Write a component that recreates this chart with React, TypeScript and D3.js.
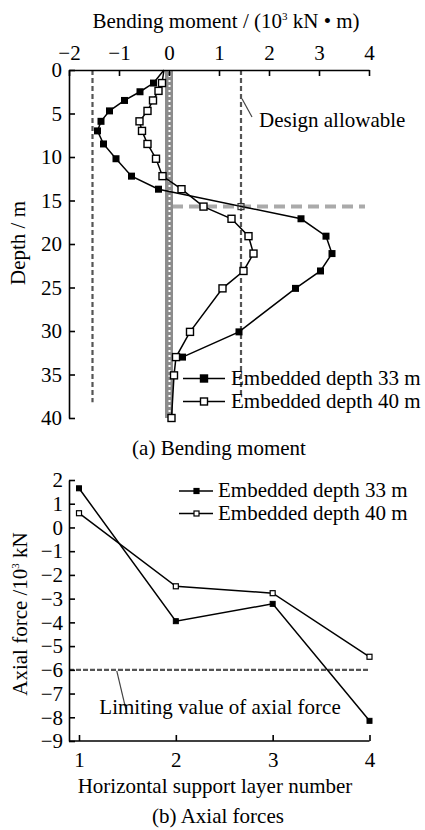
import * as d3 from "d3"
import React, { useEffect, useRef } from "react"

// top chart: bending moment vs depth
const momentTicks = [-2, -1, 0, 1, 2, 3, 4]
const depthTicks = [0, 5, 10, 15, 20, 25, 30, 35, 40]

const depth33 = [0, 1.5, 2.5, 3.5, 4.7, 5.9, 7.0, 8.5, 10.2, 12.2, 13.7, 17.1, 19.1, 21.1, 23.1, 25.1, 30.1, 33.0]
const moment33 = [-0.1, -0.31, -0.58, -0.89, -1.19, -1.36, -1.43, -1.31, -1.06, -0.75, -0.21, 2.64, 3.14, 3.26, 3.03, 2.53, 1.4, 0.27]

const depth40 = [0, 1.5, 2.4, 3.5, 4.7, 5.9, 7.0, 8.5, 10.2, 12.2, 13.7, 15.7, 17.1, 19.1, 21.1, 23.1, 25.1, 30.1, 33.0, 35.1, 40.0]
const moment40 = [-0.1, -0.14, -0.21, -0.32, -0.43, -0.59, -0.54, -0.43, -0.26, -0.13, 0.25, 0.69, 1.25, 1.59, 1.69, 1.49, 1.07, 0.42, 0.14, 0.1, 0.05]

const allowMoment = [-1.53, 1.44]
const allowDepthEnd = [38.2, 37.5]
const excavationDepth = 15.7
const wallDepth = 40

// bottom chart: axial force per support layer
const layers = [1, 2, 3, 4]
const forceTicks = [2, 1, 0, -1, -2, -3, -4, -5, -6, -7, -8, -9]
const axial33 = [1.65, -3.95, -3.22, -8.15]
const axial40 = [0.6, -2.48, -2.77, -5.45]
const forceLimit = -6

const seriesNames = ["Embedded depth 33 m", "Embedded depth 40 m"]
const FONT = "'Liberation Serif', 'Times New Roman', serif"

export default function App() {
  const ref = useRef<SVGSVGElement>(null)

  useEffect(() => {
    const svg = d3.select(ref.current)
    svg.selectAll("*").remove()

    //---------- (a) bending moment ----------
    const x = d3.scaleLinear().domain([-2, 4]).range([69, 369])
    const y = d3.scaleLinear().domain([0, 40]).range([70, 418])

    const top = svg.append("g")

    // design allowable verticals
    allowMoment.forEach((m, i) => {
      top.append("line")
        .attr("x1", x(m)).attr("x2", x(m))
        .attr("y1", y(0)).attr("y2", y(allowDepthEnd[i]))
        .attr("stroke", "#555").attr("stroke-width", 2.2)
        .attr("stroke-dasharray", "5,3")
    })
    // excavation level
    top.append("line")
      .attr("x1", x(0.06)).attr("x2", x(3.92))
      .attr("y1", y(excavationDepth)).attr("y2", y(excavationDepth))
      .attr("stroke", "#aaa").attr("stroke-width", 4)
      .attr("stroke-dasharray", "11,6")

    // the wall
    top.append("rect")
      .attr("x", x(0) - 4).attr("width", 8)
      .attr("y", y(0)).attr("height", y(wallDepth) - y(0))
      .attr("fill", "#8c8c8c")
    top.append("line")
      .attr("x1", x(0) + 0.5).attr("x2", x(0) + 0.5)
      .attr("y1", y(0)).attr("y2", y(wallDepth))
      .attr("stroke", "#fff").attr("stroke-width", 2)
      .attr("stroke-dasharray", "2,3")

    const pts33 = depth33.map((d, i) => [moment33[i], d])
    const pts40 = depth40.map((d, i) => [moment40[i], d])
    const lineTop = d3.line<number[]>().x(d => x(d[0])).y(d => y(d[1]))

    ;[pts40, pts33].forEach(p => {
      top.append("path").attr("d", lineTop(p))
        .attr("fill", "none").attr("stroke", "#000").attr("stroke-width", 1.5)
    })
    const sq = 7
    top.selectAll(".m40").data(pts40.slice(1)).enter().append("rect")
      .attr("x", d => x(d[0]) - sq / 2).attr("y", d => y(d[1]) - sq / 2)
      .attr("width", sq).attr("height", sq)
      .attr("fill", "#fff").attr("stroke", "#000").attr("stroke-width", 1.4)
    top.selectAll(".m33").data(pts33.slice(1)).enter().append("rect")
      .attr("x", d => x(d[0]) - sq / 2).attr("y", d => y(d[1]) - sq / 2)
      .attr("width", sq).attr("height", sq)
      .attr("fill", "#000")
    // crossing of allowable and excavation level
    top.append("rect")
      .attr("x", x(allowMoment[1]) - 3).attr("y", y(excavationDepth) - 3)
      .attr("width", 6).attr("height", 6)
      .attr("fill", "none").attr("stroke", "#333").attr("stroke-width", 1.2)

    // axes
    const xAxis = top.append("g").attr("transform", "translate(0," + y(0) + ")")
      .call(d3.axisTop(x).tickValues(momentTicks).tickFormat(d3.format("d")).tickSizeInner(-6).tickSizeOuter(0).tickPadding(10))
    const yAxis = top.append("g").attr("transform", "translate(" + x(-2) + ",0)")
      .call(d3.axisLeft(y).tickValues(depthTicks).tickFormat(d3.format("d")).tickSizeInner(-6).tickSizeOuter(0).tickPadding(7))
    ;[xAxis, yAxis].forEach(g => {
      g.attr("font-family", FONT).attr("font-size", 21)
      g.selectAll("path, line").attr("stroke", "#000").attr("stroke-width", 1.6)
      g.selectAll("text").attr("fill", "#000")
    })

    const title = top.append("text").attr("x", 226).attr("y", 28)
      .attr("text-anchor", "middle").attr("font-family", FONT).attr("font-size", 21)
    title.append("tspan").text("Bending moment / (10")
    title.append("tspan").attr("font-size", 11).attr("dy", -8).text("3")
    title.append("tspan").attr("dy", 8).text(" kN • m)")

    top.append("text").attr("transform", "translate(25,243) rotate(-90)")
      .attr("text-anchor", "middle").attr("font-family", FONT).attr("font-size", 21)
      .text("Depth / m")

    // design allowable annotation
    top.append("line")
      .attr("x1", x(1.46)).attr("y1", y(3.3)).attr("x2", x(1.66)).attr("y2", y(5.4))
      .attr("stroke", "#444").attr("stroke-width", 1.2)
    top.append("text").attr("x", x(1.8)).attr("y", y(6.55))
      .attr("font-family", FONT).attr("font-size", 21).text("Design allowable")

    // legend
    const legTop = top.append("g").attr("font-family", FONT).attr("font-size", 21)
    seriesNames.forEach((name, i) => {
      const ly = 378.5 + i * 23
      legTop.append("line").attr("x1", 183).attr("x2", 225).attr("y1", ly).attr("y2", ly)
        .attr("stroke", "#000").attr("stroke-width", 1.5)
      legTop.append("rect").attr("x", 204 - sq / 2).attr("y", ly - sq / 2)
        .attr("width", sq).attr("height", sq)
        .attr("fill", i === 0 ? "#000" : "#fff").attr("stroke", "#000").attr("stroke-width", 1.4)
      legTop.append("text").attr("x", 231).attr("y", ly + 6).text(name)
    })

    svg.append("text").attr("x", 219).attr("y", 455).attr("text-anchor", "middle")
      .attr("font-family", FONT).attr("font-size", 21).text("(a) Bending moment")

    //---------- (b) axial forces ----------
    const xb = d3.scaleLinear().domain([1, 4]).range([79, 369.5])
    const yb = d3.scaleLinear().domain([-9, 2]).range([741, 480])
    const bot = svg.append("g")

    bot.append("line")
      .attr("x1", xb(1) - 10).attr("x2", xb(4))
      .attr("y1", yb(forceLimit)).attr("y2", yb(forceLimit))
      .attr("stroke", "#555").attr("stroke-width", 2.2).attr("stroke-dasharray", "5,2")

    const lineBot = d3.line<number>().x((d, i) => xb(layers[i])).y(d => yb(d))
    ;[axial33, axial40].forEach(s => {
      bot.append("path").attr("d", lineBot(s))
        .attr("fill", "none").attr("stroke", "#000").attr("stroke-width", 1.5)
    })
    const sb = 5
    bot.selectAll(".b33").data(axial33).enter().append("rect")
      .attr("x", (d, i) => xb(layers[i]) - sb / 2).attr("y", d => yb(d) - sb / 2)
      .attr("width", sb).attr("height", sb).attr("fill", "#000").attr("stroke", "#000").attr("stroke-width", 1)
    bot.selectAll(".b40").data(axial40).enter().append("rect")
      .attr("x", (d, i) => xb(layers[i]) - sb / 2).attr("y", d => yb(d) - sb / 2)
      .attr("width", sb).attr("height", sb).attr("fill", "#fff").attr("stroke", "#000").attr("stroke-width", 1.2)

    const xbAxis = bot.append("g").attr("transform", "translate(0," + yb(-9) + ")")
      .call(d3.axisBottom(xb).tickValues(layers).tickFormat(d3.format("d")).tickSizeInner(-6).tickSizeOuter(0).tickPadding(11))
    xbAxis.select(".domain").remove()
    bot.append("line").attr("x1", xb(1) - 10).attr("x2", xb(4)).attr("y1", yb(-9)).attr("y2", yb(-9))
      .attr("stroke", "#000").attr("stroke-width", 1.6)
    const ybAxis = bot.append("g").attr("transform", "translate(" + (xb(1) - 10) + ",0)")
      .call(d3.axisLeft(yb).tickValues(forceTicks).tickFormat(d3.format("d")).tickSizeInner(-6).tickSizeOuter(0).tickPadding(6))
    ;[xbAxis, ybAxis].forEach(g => {
      g.attr("font-family", FONT).attr("font-size", 21)
      g.selectAll("path, line").attr("stroke", "#000").attr("stroke-width", 1.6)
      g.selectAll("text").attr("fill", "#000")
    })

    // limit annotation
    bot.append("line")
      .attr("x1", xb(1.39)).attr("y1", yb(-6.04)).attr("x2", xb(1.486)).attr("y2", yb(-7.7))
      .attr("stroke", "#444").attr("stroke-width", 1.2)
    bot.append("text").attr("x", xb(1.21)).attr("y", yb(-7.87))
      .attr("font-family", FONT).attr("font-size", 21).text("Limiting value of axial force")

    const legBot = bot.append("g").attr("font-family", FONT).attr("font-size", 21)
    seriesNames.forEach((name, i) => {
      const ly = 491 + i * 22.5
      legBot.append("line").attr("x1", 179).attr("x2", 213).attr("y1", ly).attr("y2", ly)
        .attr("stroke", "#000").attr("stroke-width", 1.5)
      legBot.append("rect").attr("x", 196.5 - sb / 2).attr("y", ly - sb / 2)
        .attr("width", sb).attr("height", sb)
        .attr("fill", i === 0 ? "#000" : "#fff").attr("stroke", "#000").attr("stroke-width", 1.2)
      legBot.append("text").attr("x", 218).attr("y", ly + 6).text(name)
    })

    const yl = bot.append("text").attr("transform", "translate(27,614) rotate(-90)")
      .attr("text-anchor", "middle").attr("font-family", FONT).attr("font-size", 21)
    yl.append("tspan").text("Axial force /10")
    yl.append("tspan").attr("font-size", 11).attr("dy", -8).text("3")
    yl.append("tspan").attr("dy", 8).text(" kN")

    bot.append("text").attr("x", 215).attr("y", 793).attr("text-anchor", "middle")
      .attr("font-family", FONT).attr("font-size", 21).text("Horizontal support layer number")
    bot.append("text").attr("x", 218).attr("y", 823).attr("text-anchor", "middle")
      .attr("font-family", FONT).attr("font-size", 21).text("(b) Axial forces")
  }, [])

  return (
    <svg
      ref={ref}
      width={425}
      height={830}
      style={{ position: "absolute", left: 0, top: 0, background: "#fff" }}
    />
  )
}
